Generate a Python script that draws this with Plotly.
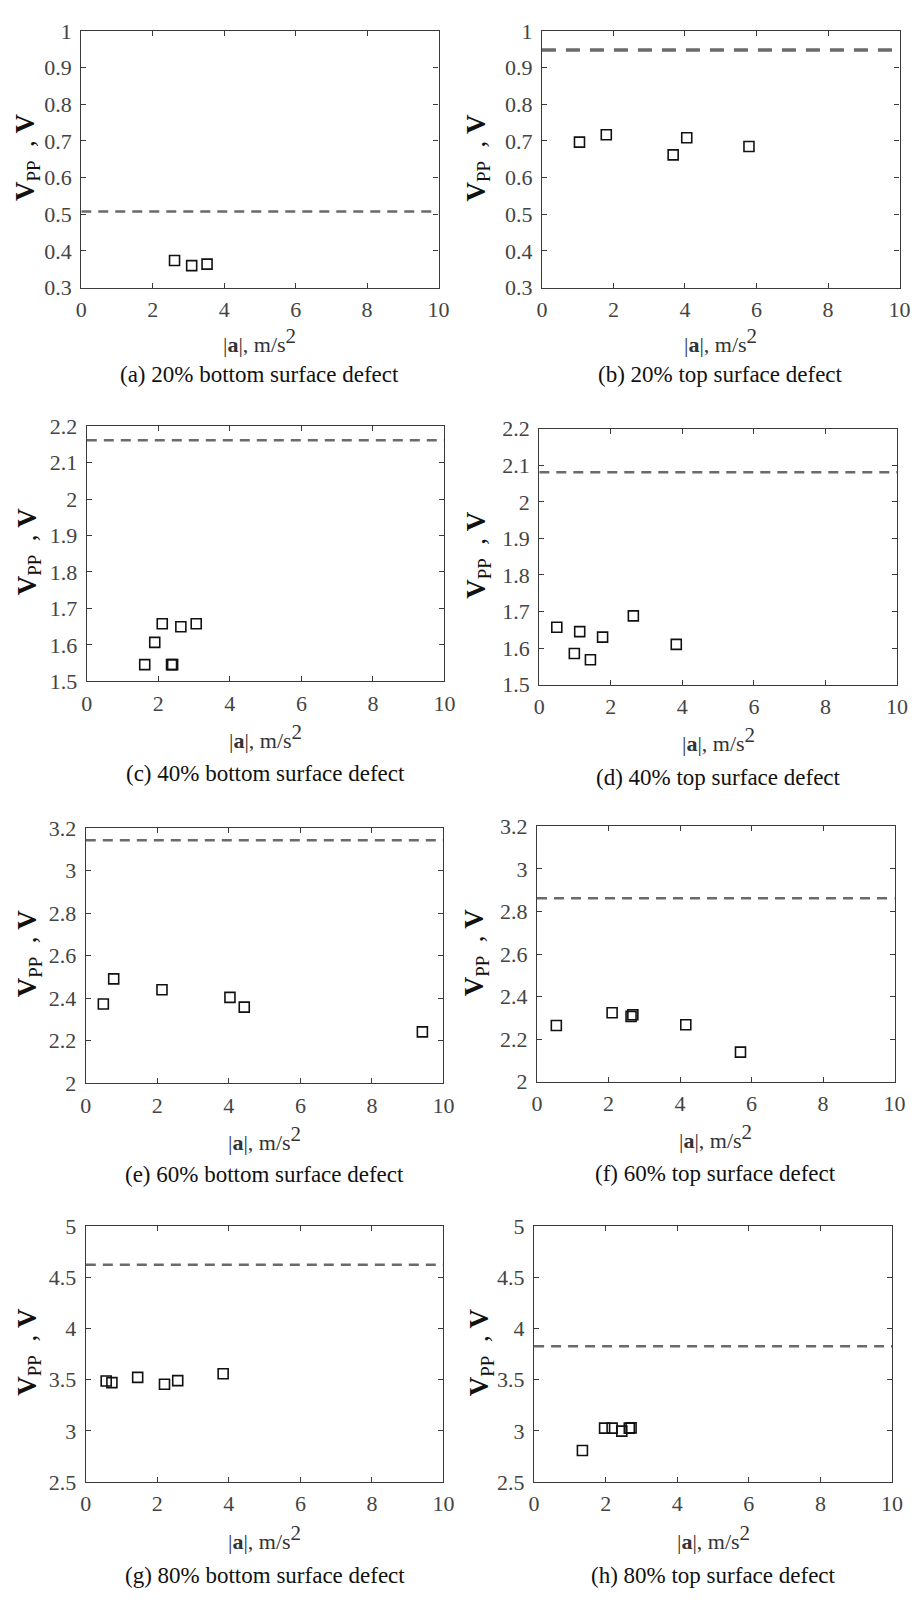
import plotly.graph_objects as go

# ---------------- data ----------------
captions = ["(a) 20% bottom surface defect", "(b) 20% top surface defect",
            "(c) 40% bottom surface defect", "(d) 40% top surface defect",
            "(e) 60% bottom surface defect", "(f) 60% top surface defect",
            "(g) 80% bottom surface defect", "(h) 80% top surface defect"]

a_x = [2.61, 3.09, 3.52]
a_y = [0.374, 0.360, 0.364]
a_ref = 0.508

b_x = [1.05, 1.80, 3.67, 4.05, 5.79]
b_y = [0.697, 0.717, 0.662, 0.709, 0.685]
b_ref = 0.948

c_x = [1.62, 1.90, 2.11, 2.37, 2.40, 2.63, 3.06]
c_y = [1.546, 1.607, 1.658, 1.546, 1.546, 1.650, 1.658]
c_ref = 2.161

d_x = [0.49, 0.98, 1.13, 1.43, 1.77, 2.63, 3.83]
d_y = [1.657, 1.585, 1.645, 1.568, 1.630, 1.688, 1.610]
d_ref = 2.081

e_x = [0.49, 0.78, 2.13, 4.03, 4.43, 9.41]
e_y = [2.373, 2.491, 2.440, 2.404, 2.358, 2.242]
e_ref = 3.143

f_x = [0.54, 2.10, 2.63, 2.68, 4.16, 5.69]
f_y = [2.264, 2.324, 2.307, 2.315, 2.268, 2.139]
f_ref = 2.862

g_x = [0.57, 0.73, 1.45, 2.20, 2.57, 3.84]
g_y = [3.487, 3.471, 3.522, 3.455, 3.490, 3.558]
g_ref = 4.622

h_x = [1.35, 1.97, 2.18, 2.45, 2.66, 2.71]
h_y = [2.808, 3.026, 3.026, 2.997, 3.026, 3.029]
h_ref = 3.827

xticks = [0, 2, 4, 6, 8, 10]
yticks_a = [0.3, 0.4, 0.5, 0.6, 0.7, 0.8, 0.9, 1.0]
ylabels_a = ["0.3", "0.4", "0.5", "0.6", "0.7", "0.8", "0.9", "1"]
yticks_c = [1.5, 1.6, 1.7, 1.8, 1.9, 2.0, 2.1, 2.2]
ylabels_c = ["1.5", "1.6", "1.7", "1.8", "1.9", "2", "2.1", "2.2"]
yticks_e = [2.0, 2.2, 2.4, 2.6, 2.8, 3.0, 3.2]
ylabels_e = ["2", "2.2", "2.4", "2.6", "2.8", "3", "3.2"]
yticks_g = [2.5, 3.0, 3.5, 4.0, 4.5, 5.0]
ylabels_g = ["2.5", "3", "3.5", "4", "4.5", "5"]

panels = [
    (a_x, a_y, a_ref, yticks_a, ylabels_a),
    (b_x, b_y, b_ref, yticks_a, ylabels_a),
    (c_x, c_y, c_ref, yticks_c, ylabels_c),
    (d_x, d_y, d_ref, yticks_c, ylabels_c),
    (e_x, e_y, e_ref, yticks_e, ylabels_e),
    (f_x, f_y, f_ref, yticks_e, ylabels_e),
    (g_x, g_y, g_ref, yticks_g, ylabels_g),
    (h_x, h_y, h_ref, yticks_g, ylabels_g),
]

# ---------------- layout (pixel boxes) ----------------
W, H = 922, 1602
boxes = [  # left, right, top, bottom in px
    (76.7, 440.7, 19.3, 280.0),
    (546.0, 910.3, 19.3, 280.0),
    (82.3, 446.7, 420.7, 680.0),
    (543.3, 907.7, 423.3, 683.3),
    (81.3, 445.7, 829.0, 1088.3),
    (541.0, 905.3, 827.3, 1086.7),
    (81.3, 445.7, 1233.3, 1493.3),
    (538.0, 902.7, 1233.3, 1493.3),
]
ytitle_x = [22, 481, 23, 481, 23, 479, 23, 484]
xtitle_off = [54, 54, 56, 56, 56, 56, 56, 56]
caption_off = [88, 88, 94, 94, 93, 93, 95, 95]

SERIF = "Liberation Serif"
AXC = "#3a3a3a"

fig = go.Figure()
layout = dict(width=W, height=H, margin=dict(l=0, r=0, t=0, b=0),
              paper_bgcolor="white", plot_bgcolor="white", showlegend=False,
              font=dict(family=SERIF, color="#000", size=21))
annotations = []

for i, ((xs, ys, ref, yt, yl), (l, r, t, b)) in enumerate(zip(panels, boxes)):
    n = i + 1
    xa = "x" if n == 1 else f"x{n}"
    ya = "y" if n == 1 else f"y{n}"
    xkey = "xaxis" if n == 1 else f"xaxis{n}"
    ykey = "yaxis" if n == 1 else f"yaxis{n}"
    dash_w = 3.5 if n == 2 else 2.5
    dash_p = "14px,10px" if n == 2 else "10px,7px"
    fig.add_trace(go.Scatter(x=[0, 10], y=[ref, ref], mode="lines", xaxis=xa, yaxis=ya,
                             line=dict(color="#6a6a6a", width=dash_w, dash=dash_p),
                             hoverinfo="skip"))
    fig.add_trace(go.Scatter(x=xs, y=ys, mode="markers", xaxis=xa, yaxis=ya,
                             marker=dict(symbol="square-open", size=10, color="#111",
                                         line=dict(width=1.6, color="#111"))))
    common = dict(showline=True, linecolor=AXC, linewidth=1.2, mirror="ticks",
                  ticks="inside", ticklen=5, tickwidth=1, tickcolor=AXC,
                  showgrid=False, zeroline=False,
                  tickfont=dict(family=SERIF, size=22, color="#444"))
    layout[xkey] = dict(domain=[l / W, r / W], range=[0, 10], anchor=ya,
                        tickvals=xticks, ticktext=[str(v) for v in xticks],
                        ticklabelstandoff=2, **common)
    layout[ykey] = dict(domain=[1 - b / H, 1 - t / H], range=[yt[0], yt[-1]], anchor=xa,
                        tickvals=yt, ticktext=yl, ticklabelstandoff=4, **common)
    cx = (l + r) / 2 / W
    # x-axis title
    annotations.append(dict(text="|<b>a</b>|, m/s<sup><span style='font-size:21px'>2</span></sup>",
                            x=cx, y=1 - (b + xtitle_off[i]) / H,
                            xref="paper", yref="paper", showarrow=False,
                            xanchor="center", yanchor="middle",
                            font=dict(family=SERIF, size=22, color="#333")))
    # y-axis title
    annotations.append(dict(text="<b>V</b><sub>PP</sub>&nbsp;&nbsp;,&nbsp;<b>V</b>", x=ytitle_x[i] / W,
                            y=1 - ((t + b) / 2 - 2) / H,
                            xref="paper", yref="paper", showarrow=False, textangle=-90,
                            xanchor="center", yanchor="middle",
                            font=dict(family=SERIF, size=27, color="#111")))
    # caption
    annotations.append(dict(text=captions[i], x=cx, y=1 - (b + caption_off[i]) / H,
                            xref="paper", yref="paper", showarrow=False,
                            xanchor="center", yanchor="middle",
                            font=dict(family=SERIF, size=23, color="#111")))

layout["annotations"] = annotations
fig.update_layout(**layout)
fig.write_html("out.html")
